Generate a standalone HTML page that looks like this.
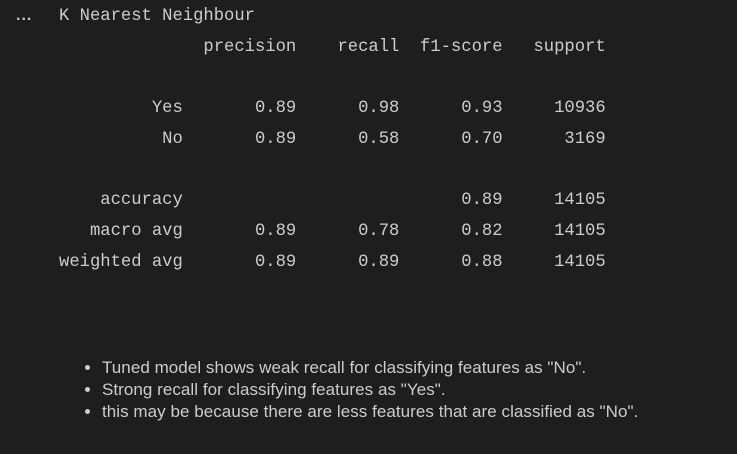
<!DOCTYPE html>
<html><head><meta charset="utf-8"><style>
html,body{margin:0;padding:0;background:#1e1e1e;width:737px;height:454px;overflow:hidden}
pre{position:absolute;left:59px;top:2px;margin:0;font-family:"Liberation Mono",monospace;font-size:17.2px;line-height:30.7px;color:#cccccc}
.dots{position:absolute;left:16px;top:1px;font-family:"Liberation Sans",sans-serif;font-weight:bold;font-size:16px;line-height:30.7px;color:#cccccc;letter-spacing:1px}
ul{position:absolute;left:84px;top:357px;margin:0;padding:0 0 0 18px;font-family:"Liberation Sans",sans-serif;font-size:17px;line-height:22px;color:#cccccc;letter-spacing:0.05px}
</style></head><body>
<div class="dots">...</div>
<pre>K Nearest Neighbour
              precision    recall  f1-score   support

         Yes       0.89      0.98      0.93     10936
          No       0.89      0.58      0.70      3169

    accuracy                           0.89     14105
   macro avg       0.89      0.78      0.82     14105
weighted avg       0.89      0.89      0.88     14105</pre>
<ul>
<li>Tuned model shows weak recall for classifying features as "No".</li>
<li>Strong recall for classifying features as "Yes".</li>
<li>this may be because there are less features that are classified as "No".</li>
</ul>
</body></html>
